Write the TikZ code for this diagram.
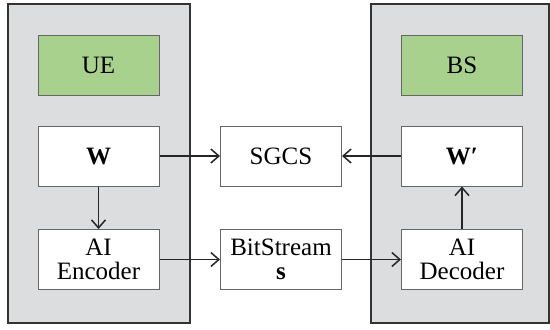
\documentclass[tikz,border=0pt]{standalone}
\usepackage{fontspec}
\setmainfont{Liberation Serif}
\usetikzlibrary{arrows.meta}
\definecolor{panelgray}{HTML}{DCDDDF}
\definecolor{boxgreen}{HTML}{A9D18E}
\begin{document}
\begin{tikzpicture}[x=0.5pt,y=-0.5pt,>={Straight Barb[length=4pt,width=7pt]},
		every node/.style={font=\fontsize{12.5}{11.7}\selectfont,align=center},
		blk/.style={draw=gray!80!black,line width=0.5pt,fill=white,minimum width=60.5pt,minimum height=30pt,inner sep=0pt},
		tag/.style={blk,fill=boxgreen},
		link/.style={->,line width=0.75pt,color=black!85}]
				\useasboundingbox (0,0) rectangle (550,329);
				% the two sides
				\draw[fill=panelgray,draw=black!80,line width=0.75pt] (8,4) rectangle (190,323);
				\draw[fill=panelgray,draw=black!80,line width=0.75pt] (371,4) rectangle (549,323);
				% UE side
				\node[tag] (ue) at (98.5,65.5) {UE};
				\node[blk] (w) at (98.5,156) {\textbf{W}};
				\node[blk] (enc) at (98.5,259.5) {AI\\Encoder};
				% BS side
				\node[tag] (bs) at (462,65.5) {BS};
				\node[blk] (wp) at (462,156) {\textbf{W′}};
				\node[blk] (dec) at (462,259.5) {AI\\Decoder};
				% in between
				\node[blk] (sgcs) at (281,156) {SGCS};
				\node[blk] (bits) at (281,259.5) {BitStream\\\textbf{s}};
				\draw[link] (w) -- (sgcs);
				\draw[link] (wp) -- (sgcs);
				\draw[link] (w) -- (enc);
				\draw[link] (enc) -- (bits);
				\draw[link] (bits) -- (dec);
				\draw[link] (dec) -- (wp);
		\end{tikzpicture}
\end{document}
